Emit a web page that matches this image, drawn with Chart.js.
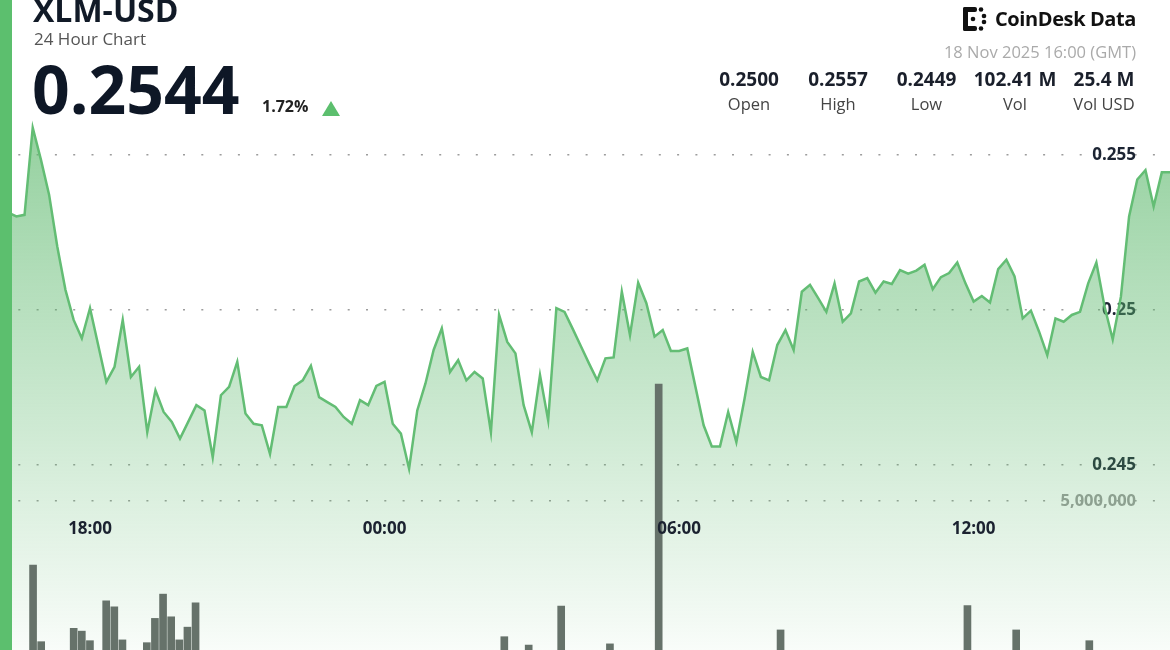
<!DOCTYPE html>
<html>
<head>
<meta charset="utf-8">
<title>XLM-USD 24 Hour Chart</title>
<script src="https://cdn.jsdelivr.net/npm/chart.js@4.4.0/dist/chart.umd.min.js"></script>
<style>
  html, body { margin: 0; padding: 0; background: #fff; }
  body { width: 1170px; height: 650px; overflow: hidden; position: relative; font-family: 'Open Sans', sans-serif; }
  #wrap { position: absolute; left: 0; top: 0; width: 1170px; height: 650px; }
  .side { position: absolute; left: 0; top: 0; width: 12px; height: 650px; background: #5cbf6e; z-index: 3; }
  .abs { position: absolute; white-space: nowrap; line-height: 1; z-index: 2; }
  .title { left: 33px; top: -6px; font-size: 32px; font-weight: 700; color: #111a27; }
  .sub { left: 34px; top: 30px; font-size: 17px; color: #555; }
  .price { left: 32px; top: 55px; font-size: 66px; font-weight: 700; color: #0e1726; }
  .chg { left: 262px; top: 98px; font-size: 16px; font-weight: 700; color: #222; }
  .tri { position: absolute; left: 322px; top: 101px; width: 0; height: 0; border-left: 9.5px solid transparent; border-right: 9.5px solid transparent; border-bottom: 15px solid #5cbf6e; z-index: 2; }
  .logo { right: 34px; top: 9px; font-size: 20px; font-weight: 700; color: #111; letter-spacing: -0.4px; }
  .logo svg { position: absolute; left: -33px; top: -3px; }
  .date { right: 34px; top: 44px; font-size: 16.5px; color: #aaa; }
  .stat { width: 110px; text-align: center; }
  .val { top: 70px; font-size: 19px; font-weight: 700; color: #1a1f2b; }
  .lab { top: 96px; font-size: 16.5px; color: #444; }
</style>
</head>
<body>
<div id="wrap"><canvas id="chart"></canvas></div>
<div class="side"></div>
<div class="abs title">XLM-USD</div>
<div class="abs sub">24 Hour Chart</div>
<div class="abs price">0.2544</div>
<div class="abs chg">1.72%</div>
<div class="tri"></div>
<div class="abs logo">
  <svg width="26" height="26" viewBox="0 0 26 26">
    <rect x="1" y="1" width="5" height="24" rx="2" fill="#111"/>
    <rect x="1" y="1" width="14" height="5" rx="2" fill="#111"/>
    <rect x="1" y="20" width="14" height="5" rx="2" fill="#111"/>
    <circle cx="19" cy="3.5" r="2.3" fill="#111"/>
    <circle cx="19" cy="22.5" r="2.3" fill="#111"/>
    <circle cx="11" cy="13" r="2.3" fill="#111"/>
    <circle cx="22" cy="10" r="2.3" fill="#111"/>
    <circle cx="22" cy="16" r="2.3" fill="#111"/>
  </svg>CoinDesk Data</div>
<div class="abs date">18 Nov 2025 16:00 (GMT)</div>
<div id="stats"></div>

<script>
// 10 minute slots, 16:10 on 17 Nov up to 16:00 on 18 Nov
const timeLabels = [];
for (let k = 0; k < 144; k++) {
    const m = (16 * 60 + 10 + k * 10) % 1440;
    timeLabels.push(String(Math.floor(m / 60)).padStart(2, '0') + ':' + String(m % 60).padStart(2, '0'));
}

const prices = [
    0.2531, 0.25314, 0.25302, 0.25307, 0.25588, 0.25485, 0.25372, 0.25205, 0.25065, 0.24968,
    0.24909, 0.25006, 0.24887, 0.24768, 0.24817, 0.24968, 0.24784, 0.24817, 0.24606, 0.24741,
    0.24671, 0.24639, 0.24585, 0.24639, 0.24693, 0.24676, 0.24525, 0.24725, 0.24752, 0.24833,
    0.24666, 0.24633, 0.24628, 0.24536, 0.24687, 0.24687, 0.24755, 0.24773, 0.2482, 0.24719,
    0.24703, 0.24687, 0.24655, 0.24633, 0.24709, 0.24693, 0.24755, 0.24768, 0.24633, 0.24601,
    0.24488, 0.24676, 0.24763, 0.24871, 0.24941, 0.248, 0.24838, 0.24773, 0.248, 0.24779,
    0.24606, 0.24984, 0.24897, 0.2486, 0.24693, 0.24606, 0.2479, 0.24644, 0.25006, 0.24994,
    0.24939, 0.24883, 0.24827, 0.24773, 0.24844, 0.24847, 0.25059, 0.24919, 0.25088, 0.25022,
    0.24914, 0.24935, 0.24868, 0.24868, 0.24876, 0.24752, 0.24628, 0.2456, 0.2456, 0.24671,
    0.24574, 0.24714, 0.24865, 0.24784, 0.24773, 0.24887, 0.24935, 0.24871, 0.25059, 0.25081,
    0.25038, 0.24994, 0.25086, 0.24962, 0.24989, 0.25092, 0.25103, 0.25056, 0.25092, 0.25084,
    0.25129, 0.25117, 0.25127, 0.25146, 0.25067, 0.25106, 0.25119, 0.25153, 0.25086, 0.25027,
    0.25045, 0.25024, 0.25132, 0.25162, 0.25108, 0.24973, 0.24998, 0.2493, 0.24854, 0.24973,
    0.24962, 0.24984, 0.24994, 0.25086, 0.25153, 0.25011, 0.24905, 0.25043, 0.25302, 0.25421,
    0.25451, 0.25334, 0.25444, 0.25444
];

// only the bars that rise into the visible part of the picture
const volTimes = ['16:50', '17:00', '17:40', '17:50', '18:00', '18:20', '18:30', '18:40', '19:10', '19:20',
    '19:30', '19:40', '19:50', '20:00', '20:10', '02:30', '03:00', '03:40', '04:40', '05:40',
    '08:10', '12:00', '13:00', '14:30'];
const volValues = [3390000, 1465000, 1800000, 1730000, 1490000, 2490000, 2340000, 1510000, 1440000, 2050000,
    2660000, 2090000, 1510000, 1830000, 2440000, 1590000, 1380000, 2360000, 1410000, 7940000,
    1760000, 2370000, 1760000, 1490000];

const xTicks = ['18:00', '00:00', '06:00', '12:00'];
const priceTicks = [0.245, 0.25, 0.255];
const volTicks = [5000000];

const statValues = ['0.2500', '0.2557', '0.2449', '102.41 M', '25.4 M'];
const statNames = ['Open', 'High', 'Low', 'Vol', 'Vol USD'];
const statCenters = [749, 838, 926.5, 1015, 1104];

const stats = document.getElementById('stats');
statValues.forEach((v, n) => {
    const a = document.createElement('div');
    a.className = 'abs stat val';
    a.style.left = (statCenters[n] - 55) + 'px';
    a.textContent = v;
    stats.appendChild(a);
    const b = document.createElement('div');
    b.className = 'abs stat lab';
    b.style.left = (statCenters[n] - 55) + 'px';
    b.textContent = statNames[n];
    stats.appendChild(b);
});

const volume = timeLabels.map(t => {
    const n = volTimes.indexOf(t);
    return n < 0 ? null : volValues[n];
});

function noPad(scale) {
    scale.paddingTop = 0;
    scale.paddingBottom = 0;
    scale.paddingLeft = 0;
    scale.paddingRight = 0;
}

// right axes sit on top of the plot, so they take no room
function flatAxis(scale) {
    noPad(scale);
    scale.width = 0;
}

const dots = { display: false, dash: [2, 16.3] };

new Chart(document.getElementById('chart').getContext('2d'), {
    data: {
        labels: timeLabels,
        datasets: [{
            type: 'bar',
            data: volume,
            xAxisID: 'xv',
            yAxisID: 'yv',
            backgroundColor: '#66726a',
            barThickness: 7,
            order: 0
        }, {
            type: 'line',
            data: prices,
            xAxisID: 'x',
            yAxisID: 'y',
            borderColor: '#63bd74',
            borderWidth: 2.5,
            pointRadius: 0,
            tension: 0,
            fill: 'start',
            backgroundColor: function(context) {
                const chart = context.chart;
                const area = chart.chartArea;
                if (!area) return 'rgba(92,184,108,0.3)';
                const g = chart.ctx.createLinearGradient(0, area.top, 0, area.bottom);
                g.addColorStop(0, 'rgba(92,184,108,0.8)');
                g.addColorStop(1, 'rgba(92,184,108,0.04)');
                return g;
            },
            order: 1
        }]
    },
    options: {
        responsive: true,
        maintainAspectRatio: false,
        animation: false,
        layout: { padding: 0 },
        plugins: {
            legend: { display: false },
            tooltip: { enabled: false }
        },
        scales: {
            x: {
                type: 'category',
                offset: false,
                position: { yv: 5000000 },
                grid: { display: false, drawTicks: false },
                border: { display: false },
                ticks: {
                    z: 1,
                    autoSkip: false,
                    maxRotation: 0,
                    padding: 18,
                    color: '#1b2230',
                    font: { family: 'Open Sans', size: 17, weight: 'bold' },
                    callback: function(value) {
                        const l = this.getLabelForValue(value);
                        return xTicks.includes(l) ? l : '';
                    }
                },
                afterFit: noPad
            },
            xv: {
                type: 'category',
                offset: true,
                display: false
            },
            y: {
                position: 'right',
                min: 0.239032,
                max: 0.26,
                afterBuildTicks: s => { s.ticks = priceTicks.map(v => ({ value: v })); },
                grid: { color: '#9c9c9c', lineWidth: 1.6, drawTicks: false },
                border: dots,
                ticks: {
                    mirror: true,
                    padding: -34,
                    color: '#1c2433',
                    font: { family: 'Open Sans', size: 17, weight: 'bold' },
                    callback: v => String(v)
                },
                afterFit: flatAxis
            },
            yv: {
                position: 'right',
                min: 1256000,
                max: 17588000,
                afterBuildTicks: s => { s.ticks = volTicks.map(v => ({ value: v })); },
                grid: { color: '#9c9c9c', lineWidth: 1.6, drawTicks: false },
                border: dots,
                ticks: {
                    mirror: true,
                    padding: -34,
                    color: '#9a9a9a',
                    font: { family: 'Open Sans', size: 16.5, weight: 'bold' },
                    callback: v => v.toLocaleString('en-US')
                },
                afterFit: flatAxis
            }
        }
    }
});
</script>
</body>
</html>
